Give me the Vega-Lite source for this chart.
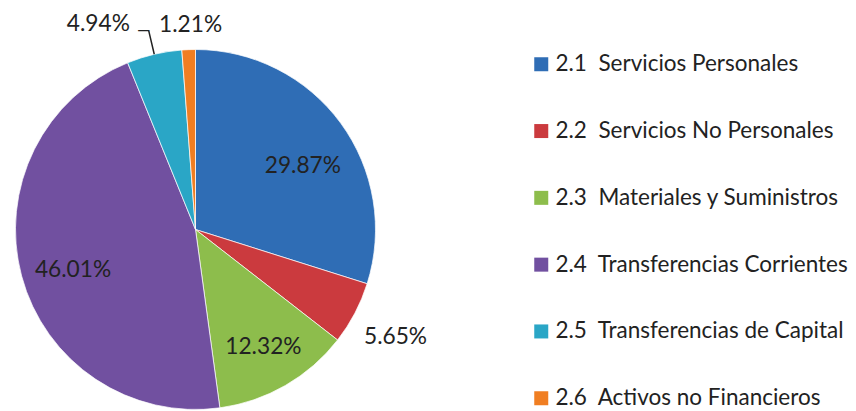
{
  "$schema": "https://vega.github.io/schema/vega-lite/v6.json",
  "width": 391,
  "height": 459,
  "autosize": {"type": "none"},
  "padding": {"left": 0, "top": 0, "right": 465, "bottom": -48},
  "background": "#ffffff",
  "data": {
    "values": [
      {"cat": "2.1\u00a0 Servicios Personales", "value": 29.87, "label": "29.87%"},
      {"cat": "2.2\u00a0 Servicios No Personales", "value": 5.65, "label": "5.65%"},
      {"cat": "2.3\u00a0 Materiales y Suministros", "value": 12.32, "label": "12.32%"},
      {"cat": "2.4\u00a0 Transferencias Corrientes", "value": 46.01, "label": "46.01%"},
      {"cat": "2.5\u00a0 Transferencias de Capital", "value": 4.94, "label": "4.94%"},
      {"cat": "2.6\u00a0 Activos no Financieros", "value": 1.21, "label": "1.21%"}
    ]
  },
  "encoding": {
    "theta": {"field": "value", "type": "quantitative", "stack": true},
    "order": {"field": "cat", "sort": "ascending"}
  },
  "layer": [
    {
      "mark": {"type": "arc", "outerRadius": 180, "stroke": "#ffffff", "strokeWidth": 1, "strokeOpacity": 0.7},
      "encoding": {
        "color": {
          "field": "cat",
          "type": "nominal",
          "scale": {"range": ["#2F6DB5", "#CB3A3E", "#8DBD4C", "#7150A0", "#2AA6C6", "#F07E22"]},
          "legend": {"title": null}
        }
      }
    },
    {
      "mark": {"type": "arc", "radius": 204, "radius2": 180, "padAngle": 1.5, "fillOpacity": 0, "stroke": "#222222", "strokeWidth": 1.5},
      "encoding": {
        "detail": {"field": "cat"},
        "strokeOpacity": {"condition": {"test": "indexof(datum.cat, '2.5') === 0", "value": 1}, "value": 0}
      }
    },
    {
      "mark": {"type": "text", "radius": 205, "thetaOffset": -0.024, "fontSize": 17, "font": "Lato", "color": "#222222", "dy": 0},
      "encoding": {
        "detail": {"field": "cat"},
        "text": {"condition": {"test": "indexof(datum.cat, '2.5') === 0", "value": "—"}, "value": ""}
      }
    },
    {
      "mark": {"type": "text", "radius": 125, "thetaOffset": 0.095, "fontSize": 22.7, "font": "Lato", "color": "#222222"},
      "encoding": {
        "detail": {"field": "cat"},
        "text": {"condition": {"test": "indexof(datum.cat, '2.1') === 0", "field": "label"}, "value": ""}
      }
    },
    {
      "mark": {"type": "text", "radius": 227, "thetaOffset": 0.009, "fontSize": 22.7, "font": "Lato", "color": "#222222"},
      "encoding": {
        "detail": {"field": "cat"},
        "text": {"condition": {"test": "indexof(datum.cat, '2.2') === 0", "field": "label"}, "value": ""}
      }
    },
    {
      "mark": {"type": "text", "radius": 136, "thetaOffset": 0, "fontSize": 22.7, "font": "Lato", "color": "#222222"},
      "encoding": {
        "detail": {"field": "cat"},
        "text": {"condition": {"test": "indexof(datum.cat, '2.3') === 0", "field": "label"}, "value": ""}
      }
    },
    {
      "mark": {"type": "text", "radius": 129, "thetaOffset": -0.058, "fontSize": 22.7, "font": "Lato", "color": "#222222"},
      "encoding": {
        "detail": {"field": "cat"},
        "text": {"condition": {"test": "indexof(datum.cat, '2.4') === 0", "field": "label"}, "value": ""}
      }
    },
    {
      "mark": {"type": "text", "radius": 227, "thetaOffset": -0.211, "fontSize": 22.7, "font": "Lato", "color": "#222222"},
      "encoding": {
        "detail": {"field": "cat"},
        "text": {"condition": {"test": "indexof(datum.cat, '2.5') === 0", "field": "label"}, "value": ""}
      }
    },
    {
      "mark": {"type": "text", "radius": 205, "thetaOffset": 0.014, "fontSize": 22.7, "font": "Lato", "color": "#222222"},
      "encoding": {
        "detail": {"field": "cat"},
        "text": {"condition": {"test": "indexof(datum.cat, '2.6') === 0", "field": "label"}, "value": ""}
      }
    }
  ],
  "config": {
    "view": {"stroke": null},
    "legend": {
      "orient": "none",
      "legendX": 530,
      "legendY": 53,
      "padding": 0,
      "symbolType": "square",
      "symbolSize": 196,
      "symbolStrokeWidth": 0,
      "labelFont": "Lato",
      "labelFontSize": 22.5,
      "labelColor": "#222222",
      "labelOffset": 3,
      "rowPadding": 43.8,
      "labelLimit": 400
    }
  }
}
